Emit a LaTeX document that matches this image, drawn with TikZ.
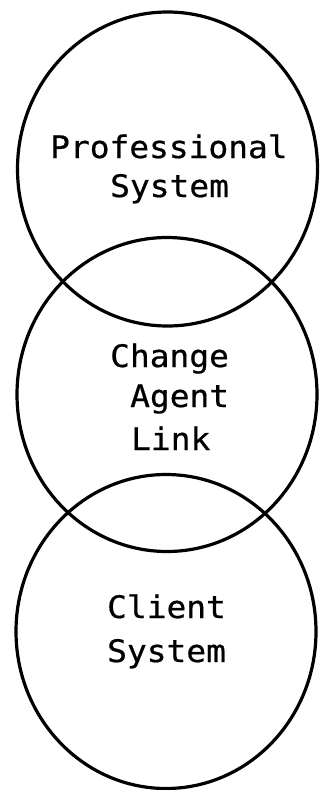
\documentclass[tikz,border=0pt]{standalone}
\usepackage{fontspec}
\setmonofont[FakeStretch=1.06,FakeBold=0.6]{DejaVu Sans Mono}
\usetikzlibrary{shapes.geometric}
\begin{document}
\begin{tikzpicture}[x=1pt,y=-1pt,
  sysring/.style={draw=black,line width=3.2pt,ellipse,inner sep=0pt,
    minimum width=300pt,minimum height=314pt},
  label/.style={anchor=base west,inner sep=0pt,
    font=\ttfamily\fontsize{31}{37}\selectfont}]
  \useasboundingbox (0,0) rectangle (321,790);
  % the three overlapping systems
  \node[sysring] (prof) at (167.5,169) {};
  \node[sysring] (link) at (167,394.5) {};
  \node[sysring] (client) at (166,631.5) {};
  % their labels
  \node[label] (profA) at (50,158) {Professional};
  \node[label] (profB) at (110,197) {System};
  \node[label] (linkA) at (110,367) {Change};
  \node[label] (linkB) at (130,407) {Agent};
  \node[label] (linkC) at (131,450) {Link};
  \node[label] (cliA) at (107,618) {Client};
  \node[label] (cliB) at (107,662) {System};
\end{tikzpicture}
\end{document}
